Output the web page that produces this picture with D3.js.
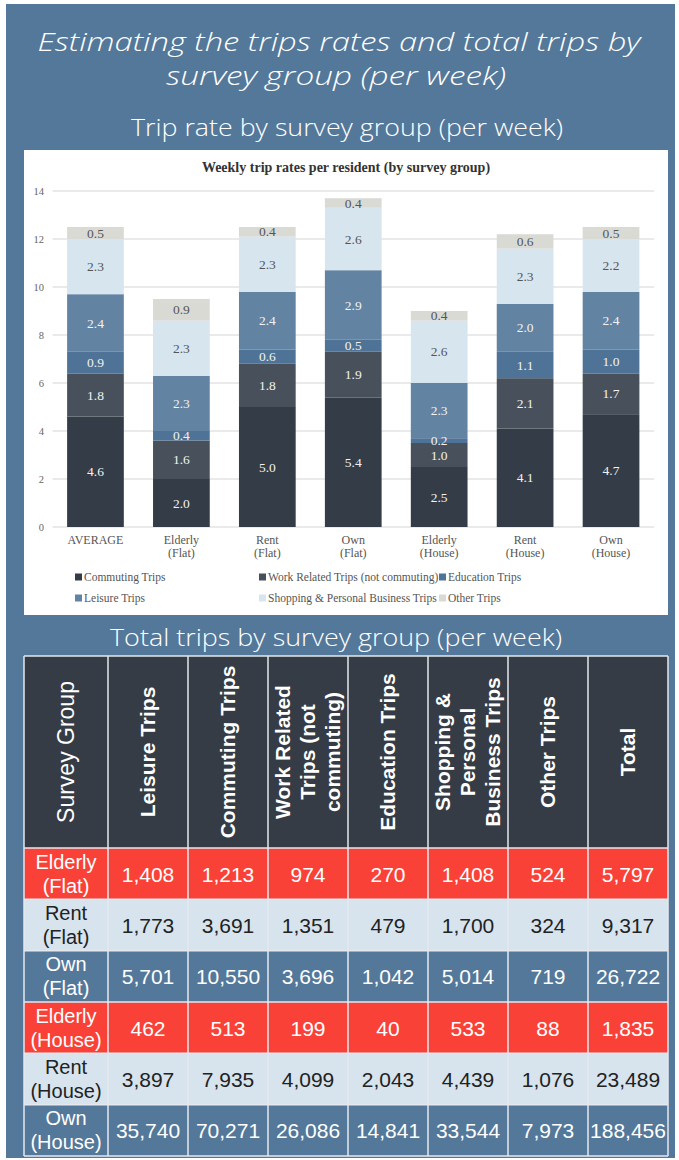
<!DOCTYPE html>
<html lang="en">
<head>
<meta charset="utf-8">
<title>Trip rates and total trips by survey group</title>
<script src="https://cdn.jsdelivr.net/npm/d3@7"></script>
<style>
  body{ margin:0; background:#fff; }
  svg text{ font-family:"Liberation Sans", Arial, sans-serif; }
  .ttl{ font-family:"Open Sans", sans-serif; fill:#fff; }
  .serif{ font-family:"Liberation Serif", serif; }
</style>
</head>
<body>
<div id="chart"></div>
<script>
// ---- bar chart data (weekly trip rates per resident) ----
var groups = ["AVERAGE", "Elderly\n(Flat)", "Rent\n(Flat)", "Own\n(Flat)", "Elderly\n(House)", "Rent\n(House)", "Own\n(House)"]
var seriesNames = ["Commuting Trips", "Work Related Trips (not commuting)", "Education Trips", "Leisure Trips", "Shopping & Personal Business Trips", "Other Trips"]
var commuting = [4.6, 2.0, 5.0, 5.4, 2.5, 4.1, 4.7]
var workRelated = [1.8, 1.6, 1.8, 1.9, 1.0, 2.1, 1.7]
var education = [0.9, 0.4, 0.6, 0.5, 0.2, 1.1, 1.0]
var leisure = [2.4, 2.3, 2.4, 2.9, 2.3, 2.0, 2.4]
var shopping = [2.3, 2.3, 2.3, 2.6, 2.6, 2.3, 2.2]
var other = [0.5, 0.9, 0.4, 0.4, 0.4, 0.6, 0.5]
var yTicks = [0, 2, 4, 6, 8, 10, 12, 14]

// ---- table data (total trips per week) ----
var tableGroups = ["Elderly\n(Flat)", "Rent\n(Flat)", "Own\n(Flat)", "Elderly\n(House)", "Rent\n(House)", "Own\n(House)"]
var tableHeaders = ["Leisure Trips", "Commuting Trips", "Work Related\nTrips (not\ncommuting)", "Education Trips", "Shopping &\nPersonal\nBusiness Trips", "Other Trips", "Total"]
var leisureTotals = [1408, 1773, 5701, 462, 3897, 35740]
var commutingTotals = [1213, 3691, 10550, 513, 7935, 70271]
var workTotals = [974, 1351, 3696, 199, 4099, 26086]
var educationTotals = [270, 479, 1042, 40, 2043, 14841]
var shoppingTotals = [1408, 1700, 5014, 533, 4439, 33544]
var otherTotals = [524, 324, 719, 88, 1076, 7973]
var grandTotals = [5797, 9317, 26722, 1835, 23489, 188456]

var W = 679, H = 1160
var svg = d3.select("#chart").append("svg").attr("width", W).attr("height", H)

// background panel
svg.append("rect").attr("x", 6).attr("y", 4).attr("width", 669).attr("height", 1154).attr("fill", "#54789a")

function heading(txt, cx, by, size, len, italic){
  svg.append("text").attr("class", "ttl").attr("x", cx).attr("y", by)
    .attr("text-anchor", "middle").attr("font-size", size).attr("font-weight", 300)
    .attr("font-style", italic ? "italic" : "normal")
    .attr("textLength", len).attr("lengthAdjust", "spacingAndGlyphs")
    .text(txt)
}
heading("Estimating the trips rates and total trips by", 339, 51, 25, 603, true)
heading("survey group (per week)", 336, 85, 25, 340, true)
heading("Trip rate by survey group (per week)", 347, 136, 23, 432, false)

// ---- stacked bar chart ----
svg.append("rect").attr("x", 24).attr("y", 150).attr("width", 644).attr("height", 465).attr("fill", "#fff")

svg.append("text").attr("class", "serif").attr("x", 346).attr("y", 172)
  .attr("text-anchor", "middle").attr("font-size", 14).attr("font-weight", "bold").attr("fill", "#333")
  .text("Weekly trip rates per resident (by survey group)")

var colors = ["#343c47", "#48515b", "#4f7396", "#6283a1", "#d7e5ef", "#dadad5"]
var labelColors = ["#f2f2f2", "#f2f2f2", "#f2f2f2", "#f2f2f2", "#555", "#555"]
var seriesValues = [commuting, workRelated, education, leisure, shopping, other]

var x = d3.scaleBand().domain(groups).range([52.5, 654]).paddingInner(0.34).paddingOuter(0.17)
var y = d3.scaleLinear().domain([0, 14]).range([527, 191])

var rows = groups.map(function(g, i){
  var r = {group: g}
  seriesNames.forEach(function(s, j){ r[s] = seriesValues[j][i] })
  return r
})
var stacked = d3.stack().keys(seriesNames)(rows)

svg.append("g").selectAll("line").data(yTicks).enter().append("line")
  .attr("x1", 52.5).attr("x2", 654)
  .attr("y1", function(d){ return y(d) }).attr("y2", function(d){ return y(d) })
  .attr("stroke", "#e3e3e3").attr("stroke-width", 1.5)

svg.append("g").selectAll("text").data(yTicks).enter().append("text")
  .attr("class", "serif").attr("x", 44).attr("y", function(d){ return y(d) + 3.5 })
  .attr("text-anchor", "end").attr("font-size", 10.5).attr("fill", "#666")
  .text(function(d){ return d })

var layers = svg.append("g").selectAll("g").data(stacked).enter().append("g")
  .attr("fill", function(d, i){ return colors[i] })

layers.selectAll("rect").data(function(d){ return d }).enter().append("rect")
  .attr("x", function(d){ return x(d.data.group) })
  .attr("width", x.bandwidth())
  .attr("y", function(d){ return y(d[1]) })
  .attr("height", function(d){ return y(d[0]) - y(d[1]) })

stacked.forEach(function(layer, i){
  svg.append("g").selectAll("text").data(layer).enter().append("text")
    .attr("class", "serif")
    .attr("x", function(d){ return x(d.data.group) + x.bandwidth() / 2 })
    .attr("y", function(d){ return y((d[0] + d[1]) / 2) + 4.5 })
    .attr("text-anchor", "middle").attr("font-size", 13.5)
    .attr("fill", labelColors[i])
    .text(function(d){ return d3.format(".1f")(d[1] - d[0]) })
})

var catLabels = svg.append("g").selectAll("text").data(groups).enter().append("text")
  .attr("class", "serif").attr("text-anchor", "middle").attr("font-size", 12).attr("fill", "#555")
  .attr("x", function(d){ return x(d) + x.bandwidth() / 2 }).attr("y", 544)
catLabels.selectAll("tspan").data(function(d){ return d.split("\n") }).enter().append("tspan")
  .attr("x", function(){ var p = this.parentNode; return p.getAttribute("x") })
  .attr("dy", function(d, i){ return i ? 13 : 0 })
  .text(function(d){ return d })

var legendPos = [[75, 577], [259, 577], [439, 577], [75, 598], [259, 598], [439, 598]]
var legend = svg.append("g").selectAll("g").data(seriesNames).enter().append("g")
  .attr("transform", function(d, i){ return "translate(" + legendPos[i][0] + "," + legendPos[i][1] + ")" })
legend.append("rect").attr("x", 0).attr("y", -3.5).attr("width", 7).attr("height", 7)
  .attr("fill", function(d, i){ return colors[i] })
legend.append("text").attr("class", "serif").attr("x", 9).attr("y", 4)
  .attr("font-size", 11.5).attr("fill", "#555").text(function(d){ return d })

// ---- table ----
heading("Total trips by survey group (per week)", 336, 646, 23, 452, false)

var tableCols = [leisureTotals, commutingTotals, workTotals, educationTotals, shoppingTotals, otherTotals, grandTotals]
var cx = d3.scaleBand().domain(tableHeaders).range([108, 668])
var ry = d3.scaleBand().domain(tableGroups).range([848, 1156])
var rowFill = ["#fa4138", "#d7e4ee", "#547899", "#fa4138", "#d7e4ee", "#547899"]
var rowText = ["#fff", "#222", "#fff", "#fff", "#222", "#fff"]
var headTop = 656, headBottom = 848

svg.append("rect").attr("x", 24).attr("y", headTop).attr("width", 644).attr("height", headBottom - headTop).attr("fill", "#353c46")

var tRows = svg.append("g").selectAll("g").data(tableGroups).enter().append("g")
tRows.append("rect").attr("x", 24).attr("y", function(d){ return ry(d) })
  .attr("width", 644).attr("height", ry.bandwidth())
  .attr("fill", function(d, i){ return rowFill[i] })

// row labels
var rowLab = tRows.append("text").attr("text-anchor", "middle").attr("font-size", 20)
  .attr("fill", function(d, i){ return rowText[i] })
  .attr("x", 66).attr("y", function(d){ return ry(d) + ry.bandwidth() / 2 - 5 })
rowLab.selectAll("tspan").data(function(d){ return d.split("\n") }).enter().append("tspan")
  .attr("x", 66).attr("dy", function(d, i){ return i ? 24 : 0 }).text(function(d){ return d })

// cell values
tableCols.forEach(function(col, j){
  svg.append("g").selectAll("text").data(col).enter().append("text")
    .attr("x", cx(tableHeaders[j]) + cx.bandwidth() / 2)
    .attr("y", function(d, i){ return ry(tableGroups[i]) + ry.bandwidth() / 2 + 8 })
    .attr("text-anchor", "middle").attr("font-size", 21)
    .attr("fill", function(d, i){ return rowText[i] })
    .text(function(d){ return d3.format(",")(d) })
})

// rotated header labels
var midY = (headTop + headBottom) / 2
svg.append("text").attr("transform", "translate(66," + midY + ") rotate(-90)")
  .attr("text-anchor", "middle").attr("dy", 8).attr("font-size", 23).attr("fill", "#fff")
  .text("Survey Group")
var heads = svg.append("g").selectAll("text").data(tableHeaders).enter().append("text")
  .attr("transform", function(d){ return "translate(" + (cx(d) + cx.bandwidth() / 2) + "," + midY + ") rotate(-90)" })
  .attr("text-anchor", "middle").attr("font-size", 21).attr("font-weight", "bold").attr("fill", "#fff")
heads.selectAll("tspan").data(function(d){ return d.split("\n") }).enter().append("tspan")
  .attr("x", 0)
  .attr("y", function(d, i){ var n = this.parentNode.__data__.split("\n").length; return 7 + (i - (n - 1) / 2) * 25 })
  .text(function(d){ return d })

// grid lines
var gridColor = "#e4e9ef"
var vx = [24, 108].concat(tableHeaders.map(function(h){ return cx(h) + cx.bandwidth() }))
svg.append("g").selectAll("line").data(vx).enter().append("line")
  .attr("x1", function(d){ return d }).attr("x2", function(d){ return d })
  .attr("y1", headTop).attr("y2", 1156).attr("stroke", gridColor).attr("stroke-width", 1.5)
var hy = [headTop, headBottom].concat(tableGroups.map(function(g){ return ry(g) + ry.bandwidth() }))
svg.append("g").selectAll("line").data(hy).enter().append("line")
  .attr("x1", 24).attr("x2", 668)
  .attr("y1", function(d){ return d }).attr("y2", function(d){ return d })
  .attr("stroke", gridColor).attr("stroke-width", 1.5)
</script>
</body>
</html>
